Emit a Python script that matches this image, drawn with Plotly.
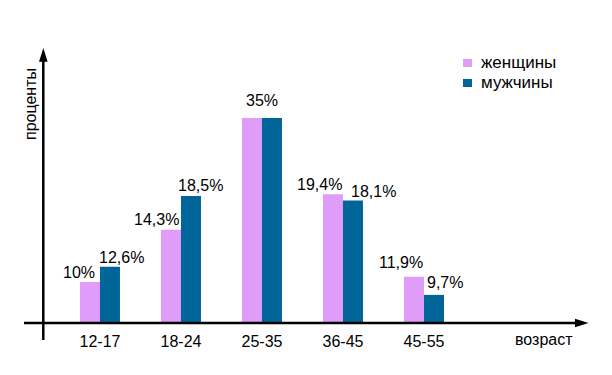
import plotly.graph_objects as go

# ---- data ----
age_groups = ["12-17", "18-24", "25-35", "36-45", "45-55"]
women_labels = ["10%", "14,3%", "35%", "19,4%", "11,9%"]
men_labels = ["12,6%", "18,5%", "35%", "18,1%", "9,7%"]
# bar heights as drawn in the picture (same scale, 35% bar = 35)
women_heights = [7.0, 15.9, 35.0, 22.0, 7.9]
men_heights = [9.6, 21.7, 35.0, 20.9, 4.8]
series_names = ["женщины", "мужчины"]
x_title = "возраст"
y_title = "проценты"

# ---- style ----
PINK = "#DF9CF8"
BLUE = "#006699"
FONT = "Arial, Liberation Sans, sans-serif"
W, H = 612, 375
L, R, T, B = 24, 24, 48, 52          # plot area 24..588 x 48..323
PW, PH = W - L - R, H - T - B
LBL = 16


def px(x):
    return (x - L) / PW


def py(y):
    return (H - B - y) / PH


# label shifts (pixels) relative to bar centre / top
women_dx = [-11, -14, 10, -13, -13]
men_dx = [12, 10, -10, 21, 11]
women_dy = [10, 10, 18, 10, 14]
men_dy = [9, 10, 18, 9, 12]

fig = go.Figure()
fig.add_trace(go.Bar(x=age_groups, y=women_heights, name=series_names[0],
                     marker=dict(color=PINK, line=dict(width=0)), showlegend=False))
fig.add_trace(go.Bar(x=age_groups, y=men_heights, name=series_names[1],
                     marker=dict(color=BLUE, line=dict(width=0)), showlegend=False))

annotations = []
for i, g in enumerate(age_groups):
    if women_labels[i] == men_labels[i]:
        annotations.append(dict(x=i, y=max(women_heights[i], men_heights[i]), text=women_labels[i],
                                xref="x", yref="y", showarrow=False, yanchor="middle",
                                xshift=0, yshift=women_dy[i], font=dict(size=LBL, color="black", family=FONT)))
        continue
    annotations.append(dict(x=i, y=women_heights[i], text=women_labels[i], xref="x", yref="y",
                            showarrow=False, yanchor="middle", xshift=-10 + women_dx[i],
                            yshift=women_dy[i], font=dict(size=LBL, color="black", family=FONT)))
    annotations.append(dict(x=i, y=men_heights[i], text=men_labels[i], xref="x", yref="y",
                            showarrow=False, yanchor="middle", xshift=10 + men_dx[i],
                            yshift=men_dy[i], font=dict(size=LBL, color="black", family=FONT)))

# legend (manual)
for k, (name, col) in enumerate(zip(series_names, [PINK, BLUE])):
    y0 = 59 + 20 * k
    annotations.append(dict(x=px(479), y=py(y0 + 3), xref="paper", yref="paper", text=name,
                            showarrow=False, xanchor="left", yanchor="middle",
                            font=dict(size=17, color="black", family=FONT)))

# axis titles
annotations.append(dict(x=px(30), y=py(104), xref="paper", yref="paper", text=y_title,
                        textangle=-90, showarrow=False, xanchor="center", yanchor="middle",
                        font=dict(size=16, color="black", family=FONT)))
annotations.append(dict(x=px(544), y=py(339), xref="paper", yref="paper", text=x_title,
                        showarrow=False, xanchor="center", yanchor="middle",
                        font=dict(size=16, color="black", family=FONT)))

shapes = []
for k, col in enumerate([PINK, BLUE]):
    y0 = 59 + 20 * k
    shapes.append(dict(type="rect", xref="paper", yref="paper", x0=px(463), x1=px(472),
                       y0=py(y0), y1=py(y0 + 8), fillcolor=col, line=dict(width=0)))

# axes with arrows
shapes.append(dict(type="line", xref="paper", yref="paper", x0=px(24), x1=px(578),
                   y0=py(323), y1=py(323), line=dict(color="black", width=2.5)))
shapes.append(dict(type="line", xref="paper", yref="paper", x0=px(43.3), x1=px(43.3),
                   y0=py(340), y1=py(58), line=dict(color="black", width=2.5)))
shapes.append(dict(type="path", xref="paper", yref="paper",
                   path=f"M{px(588.5)},{py(323)} L{px(575)},{py(318.8)} L{px(575)},{py(327.2)} Z",
                   fillcolor="black", line=dict(width=0)))
shapes.append(dict(type="path", xref="paper", yref="paper",
                   path=f"M{px(43.3)},{py(48)} L{px(39)},{py(61.7)} L{px(47.6)},{py(61.7)} Z",
                   fillcolor="black", line=dict(width=0)))

fig.update_layout(
    width=W, height=H,
    margin=dict(l=L, r=R, t=T, b=B, pad=0),
    paper_bgcolor="white", plot_bgcolor="white",
    barmode="group", bargap=0.506, bargroupgap=0,
    annotations=annotations, shapes=shapes,
    font=dict(family=FONT, color="black"),
    xaxis=dict(range=[-0.938, 6.025], showgrid=False, zeroline=False, showline=False,
               ticks="", tickfont=dict(size=16, color="black", family=FONT),
               ticklabelstandoff=7, fixedrange=True),
    yaxis=dict(range=[0, PH / 5.857], showgrid=False, zeroline=False, showline=False,
               showticklabels=False, ticks="", fixedrange=True),
)

fig.write_html("out.html", config={"displayModeBar": False},
               post_script="document.body.style.margin='0';document.body.style.overflow='hidden';")
